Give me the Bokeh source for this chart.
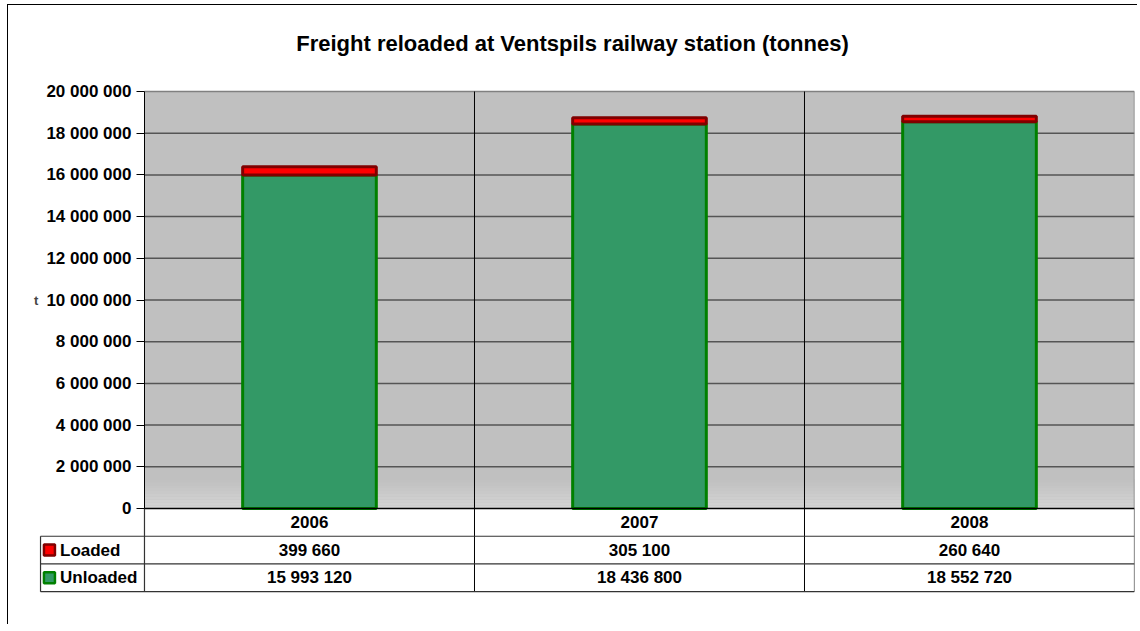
from bokeh.plotting import figure
from bokeh.models import Range1d, FixedTicker, Title
from bokeh.core.properties import value
from bokeh.embed import file_html
from bokeh.resources import INLINE

# ---- data ----
years = ["2006", "2007", "2008"]
loaded = [399660, 305100, 260640]
unloaded = [15993120, 18436800, 18552720]
series_names = ["Loaded", "Unloaded"]
y_ticks = [0, 2000000, 4000000, 6000000, 8000000, 10000000,
           12000000, 14000000, 16000000, 18000000, 20000000]
title_text = "Freight reloaded at Ventspils railway station (tonnes)"
y_axis_label = "t"

FONT = "Liberation Sans"


def fmt(v):
    return f"{v:,}".replace(",", " ")


n = len(years)
xs = [i + 0.5 for i in range(n)]
totals = [u + l for u, l in zip(unloaded, loaded)]
y_top = y_ticks[-1]
step = y_ticks[1] - y_ticks[0]

# table geometry (in data units, below the value axis)
row_h = step * 0.665
table_bottom = -3 * row_h
y_start = -4.2206e6
y_end = y_top * 1.02398
x_start = -0.406
lbl_left = -0.315

p = figure(width=1130, height=620, x_range=Range1d(x_start, n),
           y_range=Range1d(y_start, y_end),
           x_axis_type=None, output_backend="svg", toolbar_location=None,
           min_border_left=2, min_border_right=4, min_border_top=76,
           min_border_bottom=29)
p.margin = (4, 0, 0, 7)
p.styles = {"border-left": "1px solid black", "border-top": "1px solid black"}
p.title = Title(text=title_text, align="center", standoff=47,
                vertical_align="top",
                text_font=FONT, text_font_style="bold", text_font_size="22px",
                text_color="black")
p.background_fill_color = "white"
p.border_fill_color = "white"
p.outline_line_color = None
p.xgrid.visible = False
p.ygrid.visible = False

# plot area
p.quad(left=0, right=n, bottom=0, top=y_top, fill_color="#C0C0C0",
       line_color=None)
n_strips = 10
grad_h = y_top * 0.07
for i in range(n_strips):
    c = int(0xD6 - (0xD6 - 0xC0) * (i + 0.5) / n_strips)
    p.quad(left=0, right=n, bottom=grad_h * i / n_strips,
           top=grad_h * (i + 1) / n_strips,
           fill_color="#%02x%02x%02x" % (c, c, c), line_color=None)

inner = y_ticks[1:-1]
p.segment(x0=[0] * len(inner), x1=[n] * len(inner), y0=inner, y1=inner,
          line_color="#555555", line_width=1.5)
p.segment(x0=[0, n], x1=[n, n], y0=[y_top, 0], y1=[y_top, y_top],
          line_color="#808080", line_width=1.5)
divs = list(range(1, n))
p.segment(x0=divs, x1=divs, y0=[table_bottom] * len(divs), y1=[y_top] * len(divs),
          line_color="black", line_width=1)

# bars
p.vbar(x=xs, width=0.405, bottom=0, top=unloaded,
       fill_color="#339966", line_color="#008000", line_width=3)
p.vbar(x=xs, width=0.405, bottom=unloaded, top=totals,
       fill_color="#FF0000", line_color="#800000", line_width=3)

# zero line
p.segment(x0=[0], x1=[n], y0=[0], y1=[0], line_color="black", line_width=1.5)

# value axis
yax = p.yaxis[0]
yax.fixed_location = 0
yax.bounds = (y_ticks[0], y_top)
yax.ticker = FixedTicker(ticks=y_ticks)
yax.major_label_overrides = {v: fmt(v) for v in y_ticks}
yax.major_label_text_font = FONT
yax.major_label_text_font_style = "bold"
yax.major_label_text_font_size = "17px"
yax.major_label_text_color = "black"
yax.major_tick_out = 8
yax.major_tick_in = 0
yax.minor_tick_out = 0
yax.minor_tick_in = 0
yax.major_label_standoff = 5
yax.axis_line_color = "black"
yax.major_tick_line_color = "black"
yax.axis_label = y_axis_label
yax.axis_label_orientation = "horizontal"
yax.axis_label_text_font = FONT
yax.axis_label_text_font_style = "bold"
yax.axis_label_text_font_size = "13px"
yax.axis_label_standoff = 5

# data table
lc = "#333333"
hy = [-row_h, -2 * row_h, -3 * row_h]
p.segment(x0=[lbl_left] * 3, x1=[n] * 3, y0=hy, y1=hy, line_color=lc,
          line_width=1.2)
p.segment(x0=[lbl_left, 0, n], x1=[lbl_left, 0, n],
          y0=[table_bottom] * 3, y1=[-row_h, 0, 0], line_color=lc, line_width=1.2)

txt = dict(text_font=value(FONT), text_font_style="bold",
           text_font_size="17px", text_color="black", text_baseline="middle")
p.text(x=xs, y=[-0.5 * row_h] * n, text=years, text_align="center", **txt)
p.text(x=xs, y=[-1.5 * row_h] * n, text=[fmt(v) for v in loaded],
       text_align="center", **txt)
p.text(x=xs, y=[-2.5 * row_h] * n, text=[fmt(v) for v in unloaded],
       text_align="center", **txt)
p.text(x=[-0.256, -0.256], y=[-1.5 * row_h, -2.5 * row_h], text=series_names,
       text_align="left", **txt)
p.scatter(x=[-0.288], y=[-1.5 * row_h], marker="square", size=11,
          fill_color="#FF0000", line_color="#800000", line_width=2.5)
p.scatter(x=[-0.288], y=[-2.5 * row_h], marker="square", size=11,
          fill_color="#339966", line_color="#008000", line_width=2.5)

open("out.html", "w").write(file_html(p, INLINE))
